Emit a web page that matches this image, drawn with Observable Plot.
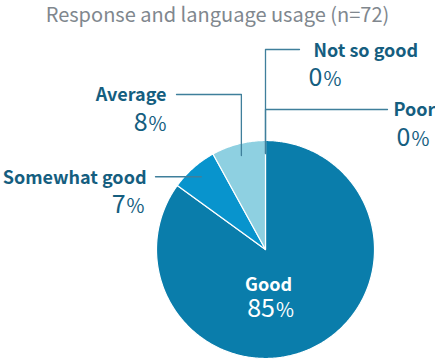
<!DOCTYPE html>
<html>
<head>
<meta charset="utf-8">
<script src="https://cdn.jsdelivr.net/npm/d3@7"></script>
<script src="https://cdn.jsdelivr.net/npm/@observablehq/plot@0.6"></script>
<style>
  html, body { margin: 0; padding: 0; background: #fff; }
  #title { width: 435px; height: 30px; text-align: center; font-family: "Noto Sans CJK JP", "Noto Sans", sans-serif; font-size: 20px; color: #80878e; line-height: 28px; white-space: nowrap; overflow: visible; }
  #chart svg { display: block; }
</style>
</head>
<body>
<div id="title">Response and language usage (n=72)</div>
<div id="chart"></div>
<script>
// ---- data ----
const categories = ["Good", "Somewhat good", "Average", "Not so good", "Poor"];
const percents = [85, 7, 8, 0, 0];
const colors = ["#0a7dab", "#0894cd", "#8ed0e1", "#c5e8f0", "#dff2f7"];

// ---- layout (pixel positions of labels, not data) ----
const W = 435, H = 332;
const center = {x: 265, y: 219}, radius = 109;
const layout = {
  "Good":          {inside: true, nx: 268, ny: 260, px: 270, py: 286, anchor: "middle"},
  "Somewhat good": {nx: 146, ny: 153, px: 144, py: 182, anchor: "end", elbowY: null, endX: 155},
  "Average":       {nx: 166, ny: 70, px: 166, py: 100, anchor: "end", elbowY: 64, endX: 176},
  "Not so good":   {nx: 313, ny: 26, px: 308, py: 55, anchor: "start", elbowY: 19, endX: 299},
  "Poor":          {nx: 393, ny: 85, px: 396, py: 115, anchor: "start", elbowY: 79, endX: 387}
};

const rows = categories.map((name, i) => ({name, value: percents[i], color: colors[i]}));
const arcs = d3.pie().sort(null).value(d => d.value)(rows);

const pt = (a, r) => ({x: center.x + r * Math.sin(a), y: center.y - r * Math.cos(a)});

// slice polygons
const sliceMarks = arcs.filter(a => a.endAngle > a.startAngle).map(a => {
  const n = Math.max(2, Math.ceil((a.endAngle - a.startAngle) / 0.01));
  const pts = [{x: center.x, y: center.y}];
  for (let k = 0; k <= n; k++) pts.push(pt(a.startAngle + (a.endAngle - a.startAngle) * k / n, radius));
  pts.push({x: center.x, y: center.y});
  return Plot.line(pts, {x: "x", y: "y", fill: a.data.color, stroke: "#fff", strokeWidth: 1.2, curve: "linear"});
});

// leader lines
const leaders = [];
arcs.forEach(a => {
  const L = layout[a.data.name];
  if (L.inside) return;
  const mid = (a.startAngle + a.endAngle) / 2;
  const p0 = pt(mid, radius * (a.value === 0 ? 0.88 : 0.89));
  const path = [p0];
  const ey = L.elbowY == null ? p0.y : L.elbowY;
  if (L.elbowY != null) path.push({x: p0.x, y: ey});
  path.push({x: L.endX, y: ey});
  path.forEach(p => leaders.push({...p, name: a.data.name}));
});

const labels = rows.map(r => ({name: r.name, pct: r.value + "%", ...layout[r.name]}));
const fontFamily = '"Noto Sans CJK JP", "Noto Sans", sans-serif';

const textMarks = [];
for (const anchor of ["start", "middle", "end"]) {
  const sub = labels.filter(d => d.anchor === anchor);
  if (!sub.length) continue;
  textMarks.push(
    Plot.text(sub, {x: "nx", y: "ny", text: "name", textAnchor: anchor, lineAnchor: "bottom",
      fill: d => d.inside ? "#ffffff" : "#155e7f", fontSize: 18, fontWeight: "bold"}),
    Plot.text(sub, {x: "px", y: "py", text: "pct", textAnchor: anchor, lineAnchor: "bottom",
      fill: d => d.inside ? "#ffffff" : "#155e7f", fontSize: 25, className: "pct"})
  );
}

const plot = Plot.plot({
  width: W, height: H,
  margin: 0,
  x: {domain: [0, W], range: [0, W], axis: null},
  y: {domain: [0, H], range: [0, H], axis: null},
  color: {type: "identity"},
  style: {fontFamily, background: "transparent"},
  marks: [
    ...sliceMarks,
    Plot.line(leaders, {x: "x", y: "y", z: "name", stroke: "#3f7f9b", strokeWidth: 1.3}),
    ...textMarks
  ]
});
// make the % sign smaller
d3.select(plot).selectAll(".pct text").each(function() {
  const t = this.textContent;
  if (t.endsWith("%")) {
    const num = t.slice(0, -1);
    this.textContent = num;
    d3.select(this).append("tspan").attr("font-size", "0.78em").attr("dx", "1").text("%");
  }
});
document.getElementById("chart").appendChild(plot);
</script>
</body>
</html>
